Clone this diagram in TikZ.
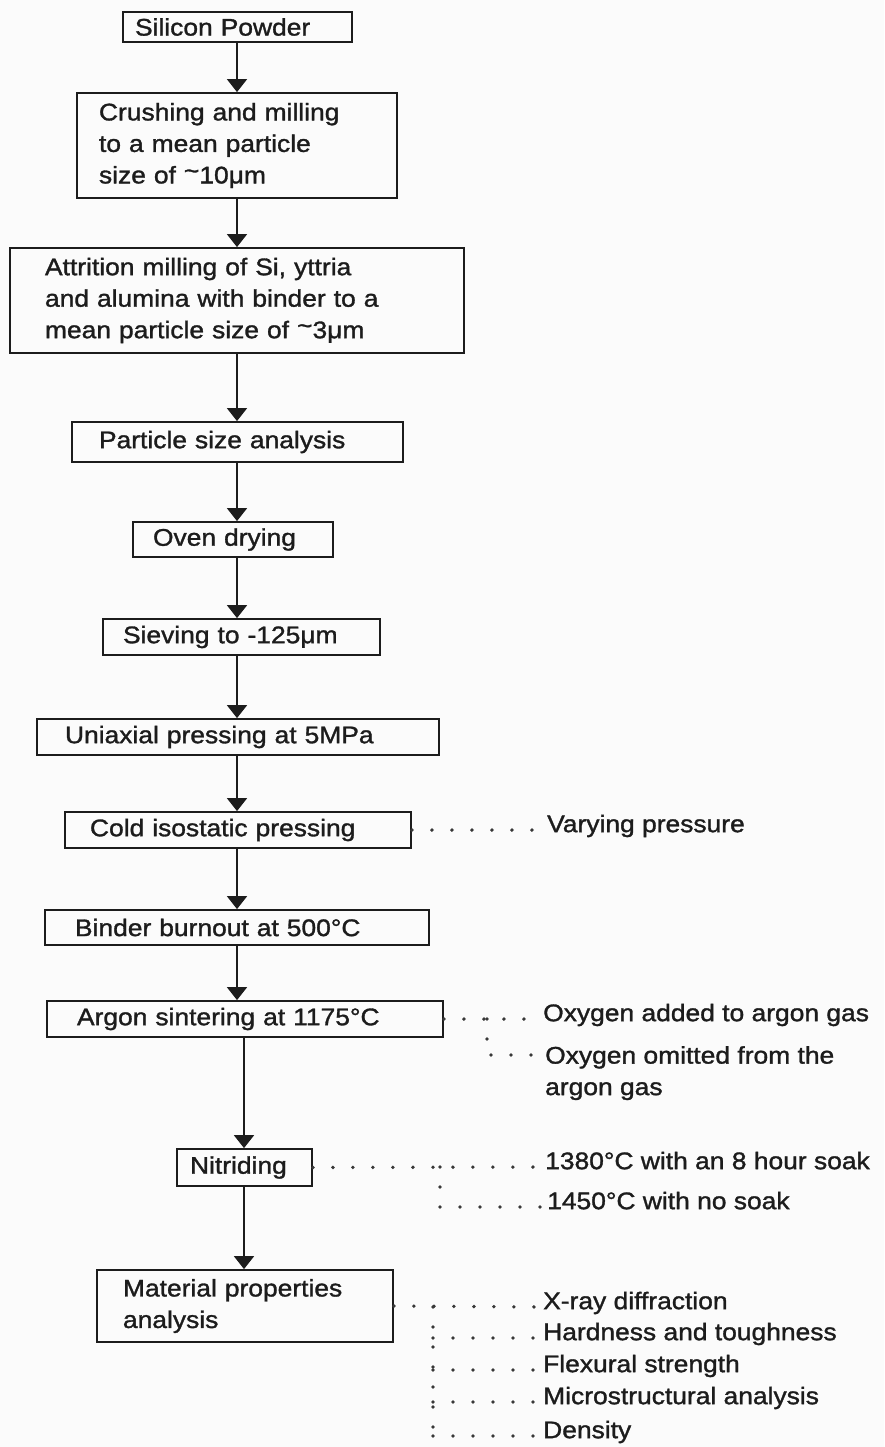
\documentclass[tikz,border=0pt]{standalone}
\usepackage{fontspec}
\newfontfamily\chartfont{Liberation Sans}[FakeStretch=1.1,FakeBold=1.3]
\usetikzlibrary{arrows.meta,calc}

\definecolor{ink}{HTML}{1C1C1C}
\definecolor{dotink}{HTML}{383838}
\definecolor{paper}{HTML}{FBFBFB}

\newcommand{\hightilde}{\raisebox{0.35ex}{\textasciitilde}}

\tikzset{
  chart/.style={font=\chartfont\fontsize{24}{31.5}\selectfont, text=ink},
  stepbox/.style={chart, draw=ink, line width=1.8pt, inner ysep=0pt, align=left},
  flow/.style={draw=ink, line width=1.7pt, -{Triangle[width=20pt,length=13pt]}},
  dotline/.style={draw=dotink, line width=3.8pt, line cap=round, dash pattern=on 0pt off 20pt},
  note/.style={chart, inner sep=0pt, anchor=mid west},
}

\begin{document}
\begin{tikzpicture}[x=1pt,y=-1pt]
  \fill[paper] (0,0) rectangle (884,1447);
  \useasboundingbox (0,0) rectangle (884,1447);

  % process steps (centre, size, left padding)
  \node[stepbox, minimum width=229pt, minimum height=30pt, inner xsep=12pt, text width=205pt] (sil) at (237.5,27) {Silicon Powder};
  \node[stepbox, minimum width=320pt, minimum height=105pt, inner xsep=22pt, text width=276pt] (crush) at (237,145.5) {Crushing and milling\\to a mean particle\\size of \hightilde10μm};
  \node[stepbox, minimum width=454pt, minimum height=105pt, inner xsep=35pt, text width=384pt] (attr) at (237,300.5) {Attrition milling of Si, yttria\\and alumina with binder to a\\mean particle size of \hightilde3μm};
  \node[stepbox, minimum width=331pt, minimum height=40pt, inner xsep=27pt, text width=277pt] (psa) at (237.5,442) {Particle size analysis};
  \node[stepbox, minimum width=200pt, minimum height=35pt, inner xsep=20pt, text width=160pt] (oven) at (233,539.5) {Oven drying};
  \node[stepbox, minimum width=277pt, minimum height=36pt, inner xsep=20pt, text width=237pt] (sieve) at (241.5,637) {Sieving to -125μm};
  \node[stepbox, minimum width=402pt, minimum height=36pt, inner xsep=28pt, text width=346pt] (uni) at (238,737) {Uniaxial pressing at 5MPa};
  \node[stepbox, minimum width=346pt, minimum height=36pt, inner xsep=25pt, text width=296pt] (cip) at (238,830) {Cold isostatic pressing};
  \node[stepbox, minimum width=384pt, minimum height=35pt, inner xsep=30pt, text width=324pt] (burn) at (237,927.5) {Binder burnout at 500°C};
  \node[stepbox, minimum width=396pt, minimum height=36pt, inner xsep=30pt, text width=336pt] (argon) at (245,1019) {Argon sintering at 1175°C};
  \node[stepbox, minimum width=135pt, minimum height=37pt, inner xsep=13pt, text width=109pt] (nitr) at (244.5,1167.5) {Nitriding};
  \node[stepbox, minimum width=296pt, minimum height=72pt, inner xsep=26pt, text width=244pt] (mat) at (245,1306) {Material properties\\analysis};

  % vertical flow lines
  \coordinate (colA) at (237,0);
  \coordinate (colB) at (244,0);
  \draw[flow] (sil.south -| colA) -- (crush.north -| colA);
  \draw[flow] (crush.south -| colA) -- (attr.north -| colA);
  \draw[flow] (attr.south -| colA) -- (psa.north -| colA);
  \draw[flow] (psa.south -| colA) -- (oven.north -| colA);
  \draw[flow] (oven.south -| colA) -- (sieve.north -| colA);
  \draw[flow] (sieve.south -| colA) -- (uni.north -| colA);
  \draw[flow] (uni.south -| colA) -- (cip.north -| colA);
  \draw[flow] (cip.south -| colA) -- (burn.north -| colA);
  \draw[flow] (burn.south -| colA) -- (argon.north -| colA);
  \draw[flow] (argon.south -| colB) -- (nitr.north -| colB);
  \draw[flow] (nitr.south -| colB) -- (mat.north -| colB);

  % side notes
  \node[note] (vary) at (547,830) {Varying pressure};
  \node[note] (oxadd) at (543,1019) {Oxygen added to argon gas};
  \node[chart, inner sep=0pt, align=left, anchor=north west] (oxomit) at (545,1046) {Oxygen omitted from the\\argon gas};
  \node[note] (soak) at (545,1167) {1380°C with an 8 hour soak};
  \node[note] (nosoak) at (547,1207) {1450°C with no soak};
  \node[note] (xrd) at (543,1307) {X-ray diffraction};
  \node[note] (hard) at (543,1338) {Hardness and toughness};
  \node[note] (flex) at (543,1370) {Flexural strength};
  \node[note] (micro) at (543,1402) {Microstructural analysis};
  \node[note] (dens) at (543,1436) {Density};

  % dotted links to the notes
  \draw[dotline] (cip.east) -- (vary.mid west);

  \coordinate (oxomitIn) at ([yshift=-9pt]oxomit.north west);
  \coordinate (argBr) at (487,1019);
  \draw[dotline] (argon.east) -- (oxadd.mid west);
  \draw[dotline] (argBr) -- (argBr |- oxomitIn) -- (oxomitIn);

  \coordinate (nitBr) at (440,1167);
  \draw[dotline] (nitr.east) -- (soak.mid west);
  \draw[dotline] (nitBr) -- (nitBr |- nosoak.mid west) -- (nosoak.mid west);

  \coordinate (matBr) at (433,1307);
  \draw[dotline] (mat.east) -- (xrd.mid west);
  \draw[dotline] (matBr) -- (matBr |- dens.mid west);
  \draw[dotline] (matBr |- hard.mid west) -- (hard.mid west);
  \draw[dotline] (matBr |- flex.mid west) -- (flex.mid west);
  \draw[dotline] (matBr |- micro.mid west) -- (micro.mid west);
  \draw[dotline] (matBr |- dens.mid west) -- (dens.mid west);
\end{tikzpicture}
\end{document}
